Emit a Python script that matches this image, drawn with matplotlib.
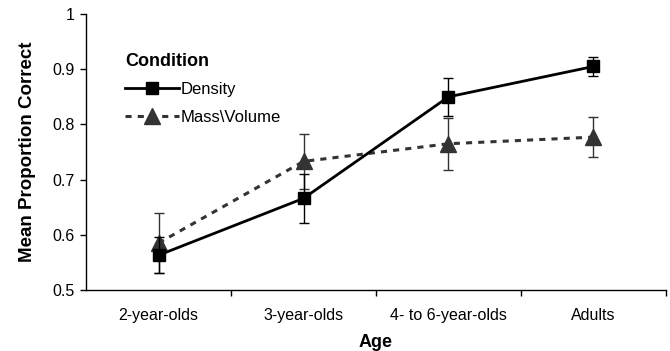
import matplotlib
matplotlib.use("Agg")
import matplotlib.pyplot as plt
from matplotlib.lines import Line2D
import numpy as np

plt.rcParams['font.family'] = ['Liberation Sans', 'DejaVu Sans']

# Data
age_groups = ['2-year-olds', '3-year-olds', '4- to 6-year-olds', 'Adults']
density_mean = [0.563, 0.666, 0.850, 0.905]
density_err = [0.033, 0.044, 0.034, 0.017]
massvol_mean = [0.585, 0.733, 0.765, 0.777]
massvol_err = [0.055, 0.050, 0.047, 0.036]
y_ticks = [0.5, 0.6, 0.7, 0.8, 0.9, 1.0]
y_tick_labels = ['0.5', '0.6', '0.7', '0.8', '0.9', '1']

fig = plt.figure(figsize=(6.7, 3.51), dpi=100)
ax = fig.add_axes([0.1284, 0.1738, 0.8656, 0.7862])

x = np.arange(len(age_groups))

mv_style = dict(color='#333333', linestyle=(0, (2, 2)), linewidth=2.2, marker='^',
                markersize=11, markerfacecolor='#333333', markeredgecolor='#333333')
d_style = dict(color='black', linestyle='-', linewidth=2, marker='s', markersize=8,
               markerfacecolor='black', markeredgecolor='black')

# Mass\Volume series (drawn first, underneath)
ax.errorbar(x, massvol_mean, yerr=massvol_err, ecolor='#333333', elinewidth=1,
            capsize=3.6, capthick=1, zorder=2, **mv_style)

# Density series
ax.errorbar(x, density_mean, yerr=density_err, ecolor='black', elinewidth=1,
            capsize=3.6, capthick=1, zorder=3, **d_style)

ax.set_xlim(-0.5, len(age_groups) - 0.5)
ax.set_ylim(0.5, 1.0)

ax.set_yticks(y_ticks)
ax.set_yticklabels(y_tick_labels, fontsize=11.5)

# tick marks between categories, labels centred on categories
ax.set_xticks(list(x[1:] - 0.5) + [len(age_groups) - 0.5])
ax.set_xticklabels([])
ax.set_xticks(x, minor=True)
ax.set_xticklabels(age_groups, minor=True, fontsize=11.5)
ax.tick_params(axis='x', which='minor', length=0, pad=13)
ax.tick_params(axis='x', which='major', length=4, width=1, direction='out')
ax.tick_params(axis='y', length=4, width=1, direction='out', pad=4)

for side in ['top', 'right']:
    ax.spines[side].set_visible(False)
ax.spines['left'].set_linewidth(1)
ax.spines['bottom'].set_linewidth(1)

ax.set_xlabel('Age', fontsize=13, fontweight='bold', labelpad=8)
ax.set_ylabel('Mean Proportion Correct', fontsize=13.5, fontweight='bold', labelpad=12)

handles = [Line2D([], [], **d_style), Line2D([], [], **mv_style)]
leg = ax.legend(handles, ['Density', 'Mass\\Volume'], title='Condition', loc='upper left',
                bbox_to_anchor=(0.068, 0.86), frameon=False, fontsize=12,
                handlelength=3.2, handletextpad=0.1, labelspacing=0.75,
                borderaxespad=0, borderpad=0)
leg.get_title().set_fontweight('bold')
leg.get_title().set_fontsize(13)
leg._legend_box.align = 'left'

fig.savefig('out.png', dpi=100, facecolor='white')
